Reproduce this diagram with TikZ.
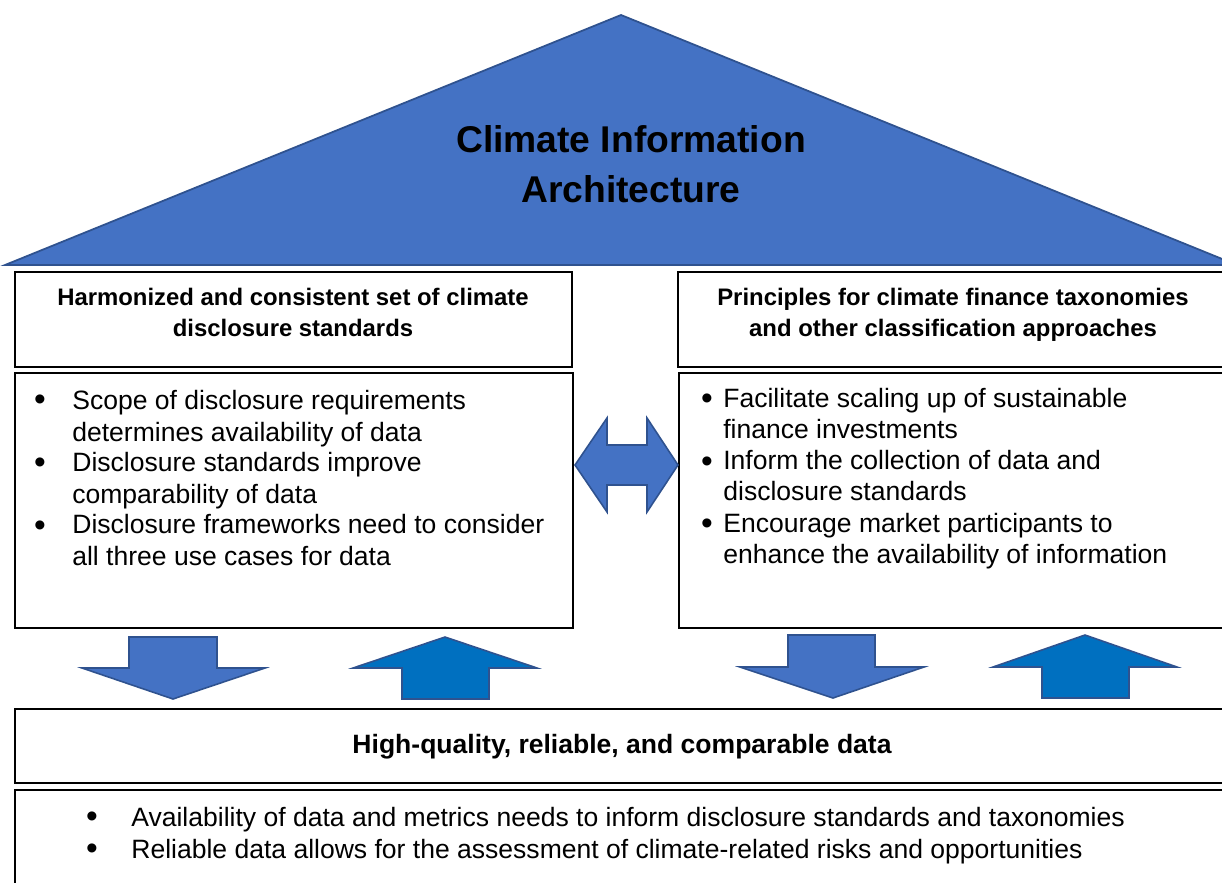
\documentclass[tikz,border=0pt]{standalone}
\usepackage{fontspec}
\setmainfont{Liberation Sans}
\usetikzlibrary{calc}
\definecolor{roofblue}{HTML}{4472C4}
\definecolor{upblue}{HTML}{0070C0}
\definecolor{edgeblue}{HTML}{2F528F}
\tikzset{
  box/.style={draw=black, line width=0.6pt},
  roof/.style={fill=roofblue, draw=edgeblue, line width=1pt},
  downarrow/.style={fill=roofblue, draw=edgeblue, line width=0.9pt},
  uparrow/.style={fill=upblue, draw=edgeblue, line width=0.9pt},
  headtext/.style={font=\bfseries\fontsize{13.6}{17.1}\selectfont, align=center, inner sep=0pt},
  itemtext/.style={font=\fontsize{15.1}{17.8}\selectfont, align=left, anchor=base west, inner sep=0pt},
  bul/.style={font=\fontsize{19}{17.8}\selectfont, anchor=base, inner sep=0pt}
}

\begin{document}
\begin{tikzpicture}[x=0.02cm, y=-0.02cm]
			%%%%% START %%%%%
			\useasboundingbox (0, 0) rectangle (1222, 882);
			\clip (0, 0) rectangle (1222, 882);
			
			% roof
			\draw[roof] (621, 15) -- (5, 265) -- (1237, 265) -- cycle;
			\node[font=\bfseries\fontsize{21.2}{27.9}\selectfont, align=center, anchor=base, inner sep=0pt] (title) at (631, 202) {Climate Information\\Architecture};
			
			% left column
			\draw[box] (15, 272) rectangle (572, 367);
			\node[headtext, anchor=base] (lefthead) at (293, 336) {Harmonized and consistent set of climate\\disclosure standards};
			\draw[box] (15, 373) rectangle (573, 628);
			\node[bul] (lb1) at (40, 410) {\textbullet};
			\node[itemtext] (lt1) at (72, 441) {Scope of disclosure requirements\\determines availability of data};
			\node[bul] (lb2) at (40, 473) {\textbullet};
			\node[itemtext] (lt2) at (72, 503) {Disclosure standards improve\\comparability of data};
			\node[bul] (lb3) at (40, 536) {\textbullet};
			\node[itemtext] (lt3) at (72, 565) {Disclosure frameworks need to consider\\all three use cases for data};
			
			% right column
			\draw[box] (678, 272) rectangle (1230, 367);
			\node[headtext, anchor=base] (righthead) at (953, 336) {Principles for climate finance taxonomies\\and other classification approaches};
			\draw[box] (679, 373) rectangle (1230, 628);
			\node[bul] (rb1) at (707, 409) {\textbullet};
			\node[itemtext, font=\fontsize{15.1}{17.1}\selectfont] (rt1) at (723, 438) {Facilitate scaling up of sustainable\\finance investments};
			\node[bul] (rb2) at (707, 472) {\textbullet};
			\node[itemtext, font=\fontsize{15.1}{17.1}\selectfont] (rt2) at (723, 500) {Inform the collection of data and\\disclosure standards};
			\node[bul] (rb3) at (707, 534) {\textbullet};
			\node[itemtext, font=\fontsize{15.1}{17.1}\selectfont] (rt3) at (723, 563) {Encourage market participants to\\enhance the availability of information};
			
			% double arrow between columns
			\draw[downarrow] (575, 465) -- (607, 418) -- (607, 445) -- (647, 445) -- (647, 418) -- (678, 465)
				-- (647, 512) -- (647, 485) -- (607, 485) -- (607, 512) -- cycle;
			
			% arrows down and up
			\draw[downarrow] (129, 637) -- (217, 637) -- (217, 668) -- (265, 668) -- (173, 699) -- (82, 668) -- (129, 668) -- cycle;
			\draw[uparrow] (445, 637) -- (537, 668) -- (489, 668) -- (489, 699) -- (402, 699) -- (402, 668) -- (353, 668) -- cycle;
			\draw[downarrow] (788, 635) -- (875, 635) -- (875, 667) -- (924, 667) -- (833, 698) -- (740, 667) -- (788, 667) -- cycle;
			\draw[uparrow] (1085, 635) -- (1177, 667) -- (1129, 667) -- (1129, 698) -- (1042, 698) -- (1042, 667) -- (993, 667) -- cycle;
			
			% data
			\draw[box] (15, 709) rectangle (1230, 783);
			\node[font=\bfseries\fontsize{15.1}{17.8}\selectfont, anchor=base, inner sep=0pt] (datahead) at (622, 753) {High-quality, reliable, and comparable data};
			\draw[box] (15, 790) rectangle (1230, 900);
			\node[bul] (db1) at (92, 827) {\textbullet};
			\node[itemtext] (dt1) at (131, 826) {Availability of data and metrics needs to inform disclosure standards and taxonomies};
			\node[bul] (db2) at (92, 859) {\textbullet};
			\node[itemtext] (dt2) at (131, 858) {Reliable data allows for the assessment of climate-related risks and opportunities};
			
			%%%%% END %%%%%
		\end{tikzpicture}
\end{document}
